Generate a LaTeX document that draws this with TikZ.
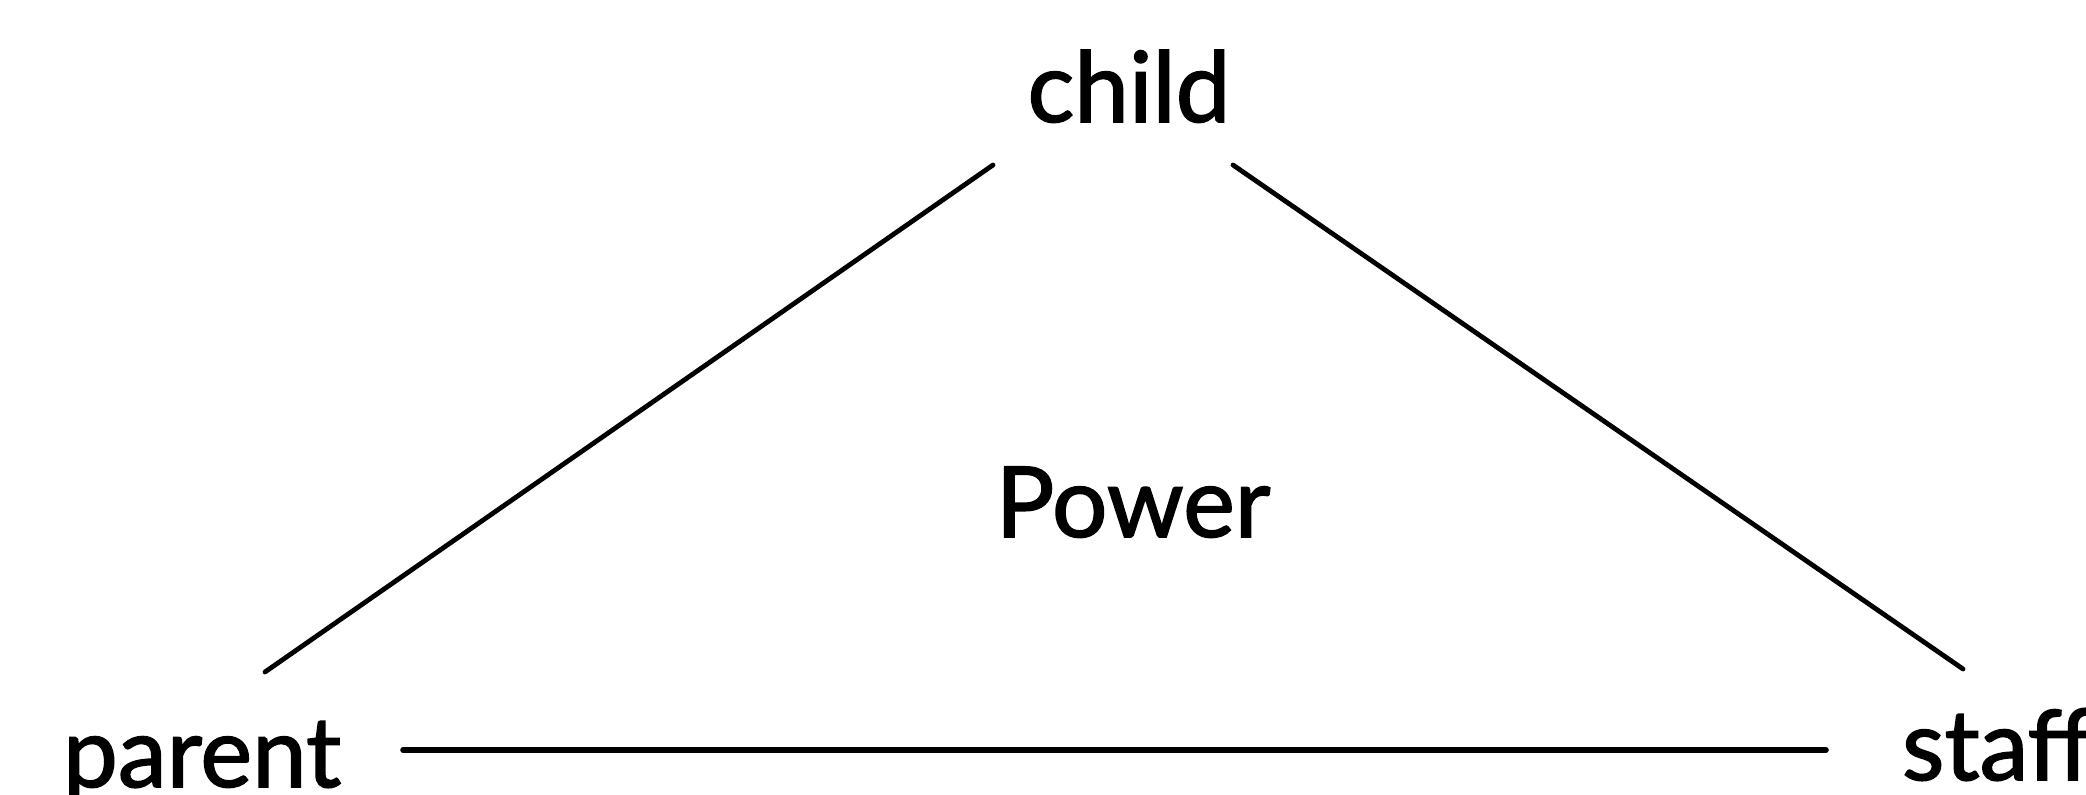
\documentclass[tikz,border=0pt]{standalone}
\usepackage{fontspec}
\setmainfont{Lato}
\newfontfamily\lblfont{Lato}[BoldFont=Lato, BoldFeatures={FakeBold=1.6}]
\tikzset{
  lbl/.style={inner sep=0pt, outer sep=0pt, font=\lblfont\bfseries\fontsize{49}{55}\selectfont},
  edge/.style={line width=2.4pt, line cap=round, black}
}
\begin{document}
\begin{tikzpicture}[x=0.5pt,y=-0.5pt]
\useasboundingbox (0,0) rectangle (2086,795);
\node[lbl, anchor=base] (child) at (1129,122) {child};
\node[lbl, anchor=base] (power) at (1133,537) {Power};
\node[lbl, anchor=base west] (parent) at (63,787) {parent};
\node[lbl, anchor=base west] (staff) at (1902,780) {staff};
\coordinate (cl) at (993,165);
\coordinate (pl) at (265,672);
\coordinate (cr) at (1233,165);
\coordinate (sr) at (1963,669);
\coordinate (pb) at (403,750);
\coordinate (sb) at (1826,750);
\draw[edge] (cl) -- (pl);
\draw[edge] (cr) -- (sr);
\draw[edge, line width=2.8pt] (pb) -- (sb);
\end{tikzpicture}
\end{document}
